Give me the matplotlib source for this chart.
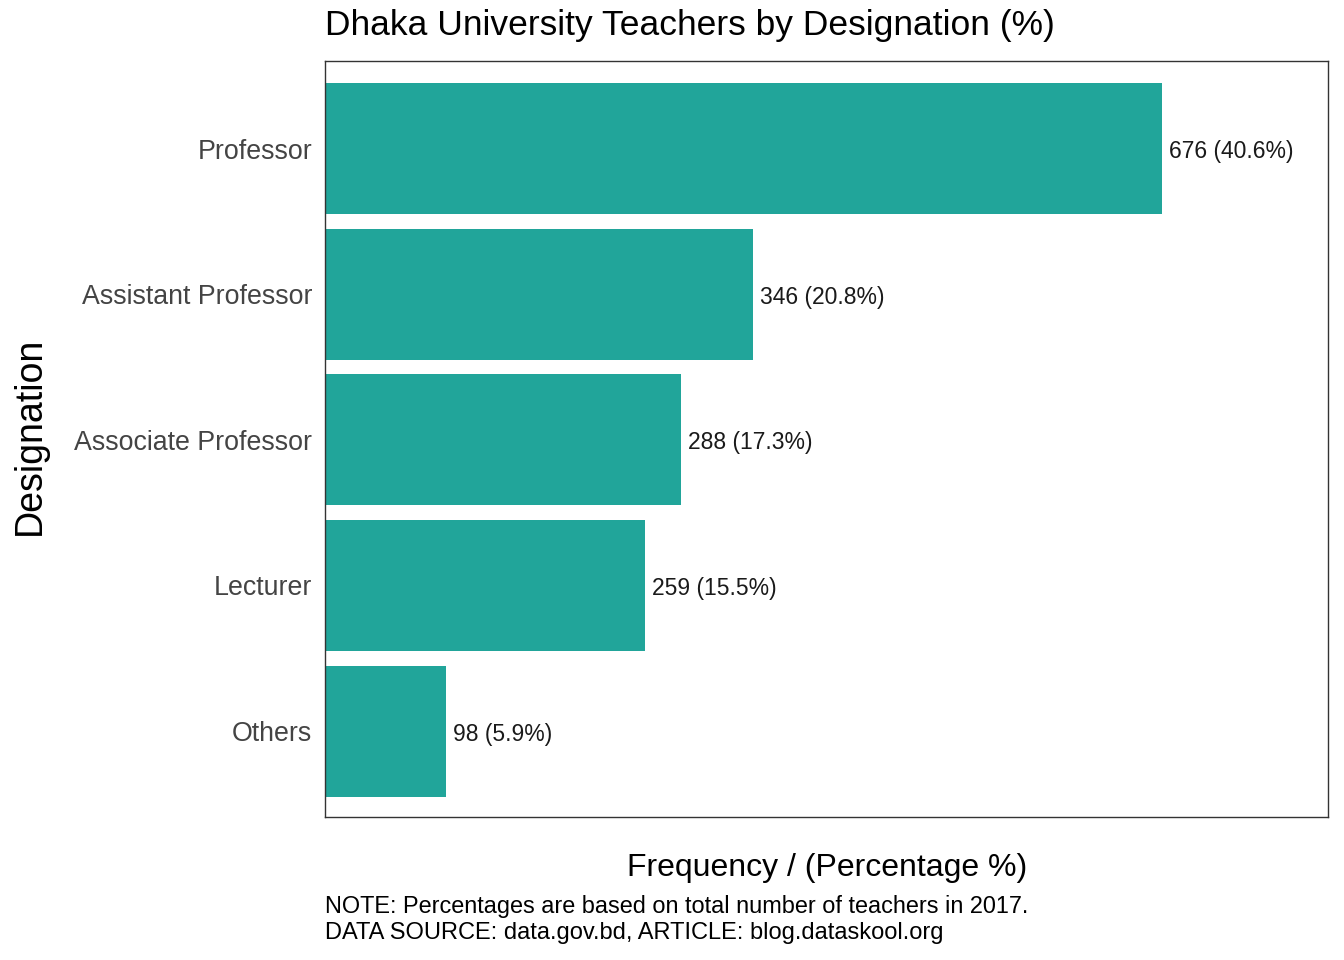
import matplotlib
matplotlib.use('Agg')
import matplotlib.pyplot as plt

plt.rcParams['font.family'] = ['Liberation Sans', 'DejaVu Sans']

designations = ['Professor', 'Assistant Professor', 'Associate Professor', 'Lecturer', 'Others']
counts = [676, 346, 288, 259, 98]
percents = [40.6, 20.8, 17.3, 15.5, 5.9]

W, H = 1344, 960
fig = plt.figure(figsize=(W/100, H/100), dpi=100)
# plot panel in pixels: 325..1328 by 62..817
ax = fig.add_axes([324.7/W, 1-816.9/H, (1327.7-324.7)/W, (816.9-61.4)/H])

ypos = list(range(len(designations)))
ax.barh(ypos, counts, height=0.9, color='#21a59a', linewidth=0)
ax.set_xlim(0, 810)
ax.set_ylim(len(designations)-0.41, -0.6)

for i in ypos:
    ax.annotate('%d (%.1f%%)' % (counts[i], percents[i]), (counts[i], i), xytext=(7, -3),
                textcoords='offset pixels', va='center', ha='left', fontsize=16.5, color='#1a1a1a')

ax.set_yticks(ypos)
ax.set_yticklabels(designations, fontsize=19.25, color='#444444')
ax.set_xticks([])
ax.tick_params(axis='y', length=0, pad=9)
for s in ax.spines.values():
    s.set_linewidth(1.0)
    s.set_color('#333333')

fig.text(325/W, 1-25/H, 'Dhaka University Teachers by Designation (%)', fontsize=25.5, va='center', ha='left', color='black')
fig.text(827/W, 1-868/H, 'Frequency / (Percentage %)', fontsize=23, va='center', ha='center', color='black')
fig.text(30/W, 1-436/H, 'Designation', fontsize=27, va='center', ha='center', rotation=90, color='black')
fig.text(325/W, 1-907/H, 'NOTE: Percentages are based on total number of teachers in 2017.', fontsize=16.9, va='center', ha='left', color='black')
fig.text(325/W, 1-933/H, 'DATA SOURCE: data.gov.bd, ARTICLE: blog.dataskool.org', fontsize=17.05, va='center', ha='left', color='black')

fig.savefig('out.png', dpi=100)
